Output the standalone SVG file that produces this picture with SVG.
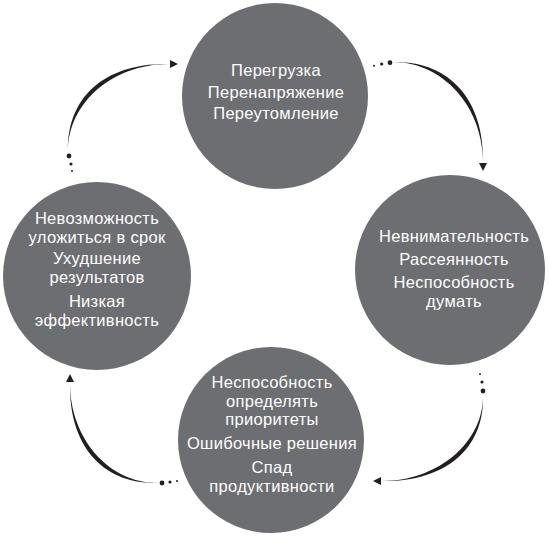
<svg xmlns="http://www.w3.org/2000/svg" width="549" height="536" viewBox="0 0 549 536">
<style>
.c{fill:#6d6e71}
.t{fill:#ffffff;font-family:"Liberation Sans","Noto Sans",sans-serif;font-size:16.5px;letter-spacing:0.3px;text-anchor:middle}
.a{fill:#231f20}
</style>
<rect width="549" height="536" fill="#ffffff"/>
<g id="node-top">
<circle class="c" cx="275" cy="96" r="93"/>
<text class="t" x="276" y="76">Перегрузка</text>
<text class="t" x="276" y="97.5">Перенапряжение</text>
<text class="t" x="276" y="119">Переутомление</text>
</g>
<g id="node-right">
<circle class="c" cx="450" cy="270" r="95"/>
<text class="t" x="454" y="242">Невнимательность</text>
<text class="t" x="454" y="265">Рассеянность</text>
<text class="t" x="454" y="288">Неспособность</text>
<text class="t" x="454" y="306.6">думать</text>
</g>
<g id="node-bottom">
<circle class="c" cx="271" cy="440" r="93"/>
<text class="t" x="272" y="388">Неспособность</text>
<text class="t" x="272" y="406.7">определять</text>
<text class="t" x="272" y="425.4">приоритеты</text>
<text class="t" x="272" y="449">Ошибочные решения</text>
<text class="t" x="272" y="473">Спад</text>
<text class="t" x="272" y="491.7">продуктивности</text>
</g>
<g id="node-left">
<circle class="c" cx="97" cy="276" r="94"/>
<text class="t" x="97" y="224">Невозможность</text>
<text class="t" x="97" y="242.7">уложиться в срок</text>
<text class="t" x="97" y="264">Ухудшение</text>
<text class="t" x="97" y="282.7">результатов</text>
<text class="t" x="97" y="307">Низкая</text>
<text class="t" x="97" y="325.7">эффективность</text>
</g>
<g id="connectors">
<g id="conn-top-right">
<circle class="a" cx="374" cy="65.7" r="1"/>
<circle class="a" cx="381.7" cy="64" r="1.6"/>
<circle class="a" cx="390" cy="62.7" r="2.4"/>
<path class="a" d="M394,62 C449.2,61 484,99.6 483,161 C482.5,106.5 442.9,62.5 394,62 Z"/>
<polygon class="a" points="483,171 479,163 487,163"/>
</g>
<g id="conn-right-bottom">
<circle class="a" cx="480" cy="374" r="1"/>
<circle class="a" cx="482" cy="382" r="1.6"/>
<circle class="a" cx="483" cy="391" r="2.4"/>
<path class="a" d="M483,397 C484,449.1 444.6,482 383,481 C437.55,480.5 482.5,443.2 483,397 Z"/>
<polygon class="a" points="373,481 381,477 381,485"/>
</g>
<g id="conn-bottom-left">
<circle class="a" cx="177" cy="481" r="1"/>
<circle class="a" cx="170" cy="482" r="1.6"/>
<circle class="a" cx="162" cy="483" r="2.4"/>
<path class="a" d="M157,483 C102.3,484 69,445.4 70,384 C70.5,438.45 108.25,482.5 157,483 Z"/>
<polygon class="a" points="70,374 66,382 74,382"/>
</g>
<g id="conn-left-top">
<circle class="a" cx="72" cy="171" r="1"/>
<circle class="a" cx="71" cy="164" r="1.6"/>
<circle class="a" cx="69" cy="156" r="2.4"/>
<path class="a" d="M68,151 C67,96.7 105.2,63 168,64 C112.1,64.5 68.5,102.7 68,151 Z"/>
<polygon class="a" points="178,64 170,60 170,68"/>
</g>
</g>
</svg>
